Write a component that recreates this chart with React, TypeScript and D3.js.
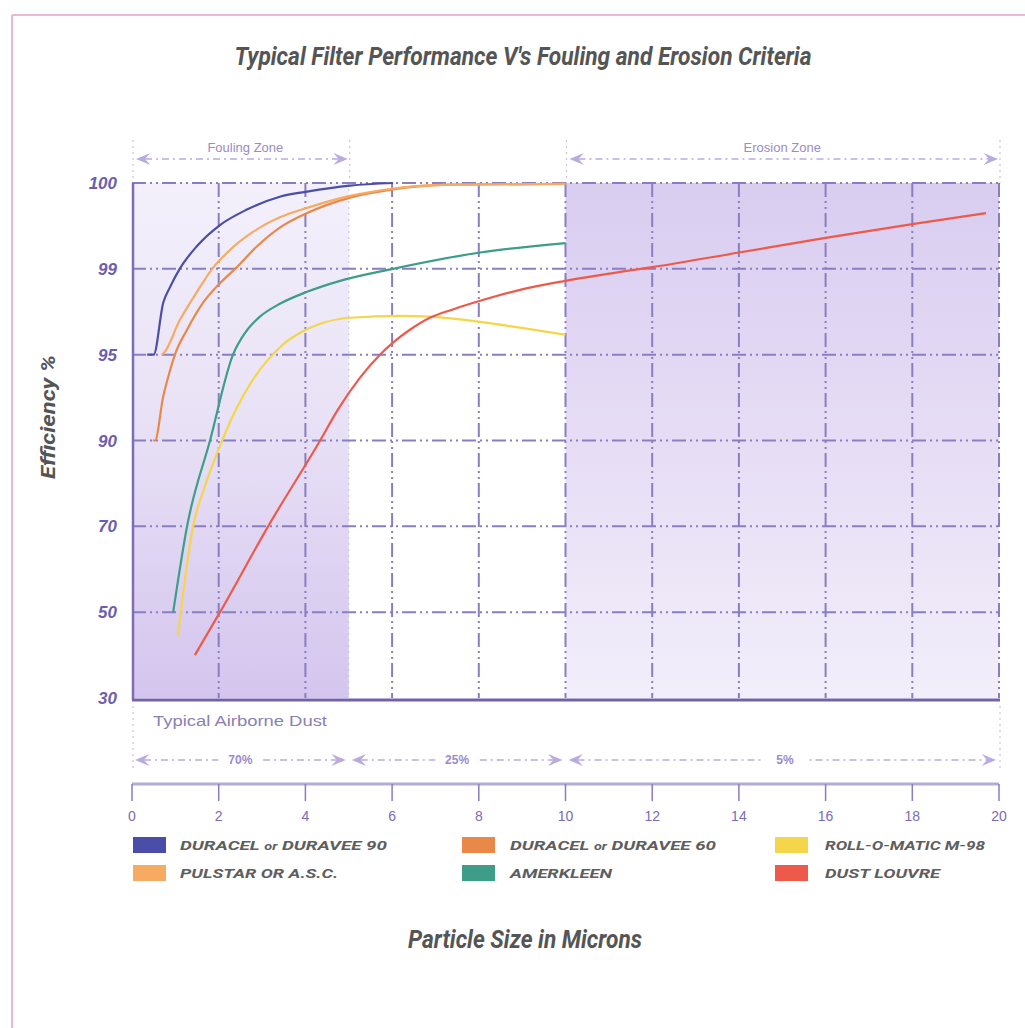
import React from 'react';
import * as d3 from 'd3';

// efficiency ticks are evenly spaced, not proportional
const yTicks = [30, 50, 70, 90, 95, 99, 100];
const xTicks = [0, 2, 4, 6, 8, 10, 12, 14, 16, 18, 20];

const duracel90 = [[0.35, 95], [0.5, 95], [0.72, 97.42], [0.88, 98.16], [1.1, 99.0], [1.49, 99.26], [2.03, 99.51], [2.65, 99.69], [3.41, 99.84], [4.04, 99.9], [5.03, 99.97], [6.02, 100]];
const duracel60 = [[0.48, 90], [0.53, 90], [0.72, 92.56], [0.88, 94.1], [0.99, 95], [1.27, 96.16], [1.64, 97.42], [2.03, 98.33], [2.42, 99.02], [2.88, 99.26], [3.41, 99.48], [4.04, 99.65], [5.03, 99.83], [5.95, 99.92], [7.33, 99.98], [10, 99.99]];
const rollOMatic = [[1.06, 44.65], [1.41, 70], [1.68, 79.3], [2.08, 90], [2.42, 91.92], [2.79, 93.55], [3.14, 94.71], [3.48, 95.47], [3.88, 96.02], [4.34, 96.44], [5.03, 96.72], [6.18, 96.81], [6.87, 96.77], [8.03, 96.53], [8.95, 96.26], [10, 95.93]];
const pulstar = [[0.68, 95], [0.72, 95.05], [1.1, 96.6], [1.49, 97.9], [1.85, 99.0], [2.26, 99.22], [2.79, 99.43], [3.41, 99.6], [4.04, 99.71], [5.03, 99.85], [5.95, 99.93], [7.33, 99.98], [10, 99.99]];
const amerkleen = [[0.95, 50], [1.27, 70], [1.8, 90], [2.33, 95], [2.61, 96.02], [2.95, 96.77], [3.41, 97.37], [4.04, 97.93], [4.8, 98.44], [6.02, 99.0], [8.03, 99.19], [10, 99.3]];
const dustLouvre = [[1.45, 40], [2.03, 50], [3.14, 70], [4.34, 90], [4.75, 91.8], [5.26, 93.66], [5.72, 95], [6.02, 95.56], [6.41, 96.16], [6.87, 96.72], [7.45, 97.14], [8.03, 97.51], [8.95, 98.02], [10, 98.44], [11.3, 98.87], [12, 99.02], [14, 99.19], [16, 99.36], [18, 99.52], [19.7, 99.65]];

const seriesNames = ['DURACEL or DURAVEE 90', 'DURACEL or DURAVEE 60', 'ROLL-O-MATIC M-98', 'PULSTAR OR A.S.C.', 'AMERKLEEN', 'DUST LOUVRE'];
const seriesData = [duracel90, duracel60, rollOMatic, pulstar, amerkleen, dustLouvre];
const seriesColors = ['#4b4ea8', '#e8894a', '#f5d54a', '#f7ab62', '#3d9d88', '#ee5a4a'];
const legendWidths = [207, 206, 160, 158, 102, 115];

const dustBands = [[0, 5, '70%'], [5, 10, '25%'], [10, 20, '5%']];
const zones = [[0, 5, 'Fouling Zone'], [10, 20, 'Erosion Zone']];

const W = 1025, H = 1028;
const left = 132, right = 999, top = 183, bottom = 698;

const x = d3.scaleLinear().domain([0, 20]).range([left, right]);
const yPos = d3.scalePoint().domain(yTicks.map(String)).range([bottom, top]);
const y = d3.scaleLinear().domain(yTicks).range(yTicks.map(t => yPos(String(t)) as number));

const line = d3.line<number[]>()
  .x(d => x(d[0]))
  .y(d => y(d[1]))
  .curve(d3.curveMonotoneX);

const gridColor = '#8a7ec2';
const dashDot = '14,4,2,4,2,4';
const condensed = "Roboto, 'Liberation Sans', sans-serif";
const plain = "'Liberation Sans', Arial, sans-serif";

const Arrow = ({ x0, x1, yy, label, labelX, color }: any) => {
  const ah = 9, hw = 6;
  return (
    <g>
      <line x1={x0 + ah} x2={x1 - ah} y1={yy} y2={yy} stroke={color} strokeWidth={1.5} strokeDasharray="7,4,2,4" />
      <path d={`M${x0},${yy} L${x0 + ah * 1.6},${yy - hw} L${x0 + ah},${yy} L${x0 + ah * 1.6},${yy + hw} Z`} fill={color} />
      <path d={`M${x1},${yy} L${x1 - ah * 1.6},${yy - hw} L${x1 - ah},${yy} L${x1 - ah * 1.6},${yy + hw} Z`} fill={color} />
      {label && (
        <g>
          <rect x={labelX - 22} y={yy - 8} width={44} height={16} fill="white" />
          <text x={labelX} y={yy + 4} textAnchor="middle" fontSize={12} fontWeight="bold" fill="#9a8ccc" fontFamily={plain}>{label}</text>
        </g>
      )}
    </g>
  );
};

export default function App() {
  return (
    <svg width={W} height={H} style={{ position: 'absolute', left: 0, top: 0, background: 'white' }}>
      <defs>
        <linearGradient id="fouling" x1="0" y1="0" x2="0" y2="1">
          <stop offset="0" stopColor="#f3f0fb" />
          <stop offset="0.45" stopColor="#e9e2f6" />
          <stop offset="1" stopColor="#d4c5ee" />
        </linearGradient>
        <linearGradient id="erosion" x1="0" y1="0" x2="0" y2="1">
          <stop offset="0" stopColor="#d9cdf0" />
          <stop offset="0.5" stopColor="#e6ddf5" />
          <stop offset="1" stopColor="#f2eefa" />
        </linearGradient>
      </defs>

      {/* page frame */}
      <line x1={12} x2={W} y1={15} y2={15} stroke="#e8b8d6" strokeWidth={2} />
      <line x1={12} x2={12} y1={15} y2={H} stroke="#e8b8d6" strokeWidth={2} />

      <text x={523} y={65} textAnchor="middle" fontSize={25} fontStyle="italic" fontWeight="bold" fill="#555"
        fontFamily={condensed} textLength={577} lengthAdjust="spacingAndGlyphs">
        Typical Filter Performance V's Fouling and Erosion Criteria
      </text>

      {/* zone shading */}
      <rect x={x(0)} y={top} width={x(5) - x(0)} height={bottom - top} fill="url(#fouling)" />
      <rect x={x(10)} y={top} width={x(20) - x(10)} height={bottom - top} fill="url(#erosion)" />

      {/* zone markers above the plot */}
      {[0, 5, 10, 20].map(v => (
        <line key={'zt' + v} x1={x(v) + 1} x2={x(v) + 1} y1={140} y2={top} stroke="#c9c0e4" strokeWidth={1.2} strokeDasharray="2,4" />
      ))}
      <line x1={x(5)} x2={x(5)} y1={top} y2={bottom} stroke="#cfc6e8" strokeWidth={1.2} strokeDasharray="2,4" />
      {zones.map(([a, b, label]: any) => (
        <g key={label}>
          <text x={(x(a) + x(b)) / 2 + (a === 0 ? 5 : 0)} y={152} textAnchor="middle" fontSize={13} fill="#9a8cc6"
            fontFamily={plain}>{label}</text>
          <Arrow x0={x(a) + 4} x1={x(b) - 1} yy={159} color="#b9aae0" />
        </g>
      ))}

      {/* grid */}
      {yTicks.filter(t => t !== 30).map(t => (
        <line key={'gy' + t} x1={left} x2={right} y1={y(t)} y2={y(t)} stroke={gridColor} strokeWidth={2} strokeDasharray={dashDot} />
      ))}
      {xTicks.filter(t => t !== 0).map(t => (
        <line key={'gx' + t} x1={x(t)} x2={x(t)} y1={top} y2={bottom} stroke={gridColor} strokeWidth={2} strokeDasharray={dashDot} />
      ))}

      {/* curves */}
      {seriesData.map((d, i) => (
        <path key={seriesNames[i]} d={line(d as any) || ''} fill="none" stroke={seriesColors[i]} strokeWidth={2.2} />
      ))}

      {/* axes */}
      <line x1={left + 1} x2={left + 1} y1={top} y2={bottom + 2} stroke="#7d6db6" strokeWidth={2.5} />
      <line x1={left} x2={right + 1} y1={bottom + 2} y2={bottom + 2} stroke="#7262ad" strokeWidth={3} />
      {yTicks.map(t => (
        <text key={'yl' + t} x={117} y={y(t) + 6} textAnchor="end" fontSize={17} fontStyle="italic" fontWeight="bold"
          fill="#6c5eae" fontFamily={plain}>{t}</text>
      ))}
      <text transform={`translate(55,417) rotate(-90)`} textAnchor="middle" fontSize={20} fontStyle="italic" fontWeight="bold"
        fill="#555" fontFamily={condensed} textLength={124} lengthAdjust="spacingAndGlyphs">Efficiency %</text>

      {/* airborne dust */}
      {[0, 20].map(v => (
        <line key={'db' + v} x1={x(v) + 1} x2={x(v) + 1} y1={706} y2={768} stroke="#c9c0e4" strokeWidth={1.2} strokeDasharray="2,4" />
      ))}
      <text x={153} y={726} fontSize={14} fill="#8a80b4" fontFamily={plain}
        textLength={174} lengthAdjust="spacingAndGlyphs">Typical Airborne Dust</text>
      {dustBands.map(([a, b, label]: any) => (
        <Arrow key={label} x0={x(a) + 3} x1={x(b) - 3} yy={760} label={label}
          labelX={a === 10 ? 785 : (x(a) + x(b)) / 2} color="#b9aae0" />
      ))}

      {/* bottom scale */}
      <line x1={x(0)} x2={x(20)} y1={784} y2={784} stroke="#b6aad9" strokeWidth={3} />
      {xTicks.map(t => (
        <g key={'xt' + t}>
          <line x1={x(t)} x2={x(t)} y1={784} y2={801} stroke="#8a7cc0" strokeWidth={1.5} />
          <text x={x(t)} y={821} textAnchor="middle" fontSize={14} fill="#7a6cb4" fontFamily={plain}>{t}</text>
        </g>
      ))}

      {/* legend */}
      {seriesNames.map((name, i) => {
        const col = i % 3, row = Math.floor(i / 3);
        const sx = [133, 462, 775][col], tx = [180, 510, 825][col];
        const cy = 845 + row * 28;
        const parts = name.split(' or ');
        return (
          <g key={'lg' + name}>
            <rect x={sx} y={cy - 8} width={33} height={16} fill={seriesColors[i]} />
            <text x={tx} y={cy + 5} fontSize={13} fontStyle="italic" fontWeight="bold" fill="#5e5e5e"
              fontFamily={condensed} textLength={legendWidths[i]} lengthAdjust="spacingAndGlyphs">
              {parts.length > 1 ? (
                <>{parts[0]} <tspan fontSize={10}>or</tspan> {parts[1]}</>
              ) : name}
            </text>
          </g>
        );
      })}

      <text x={525} y={948} textAnchor="middle" fontSize={25} fontStyle="italic" fontWeight="bold" fill="#555"
        fontFamily={condensed} textLength={234} lengthAdjust="spacingAndGlyphs">Particle Size in Microns</text>
    </svg>
  );
}
